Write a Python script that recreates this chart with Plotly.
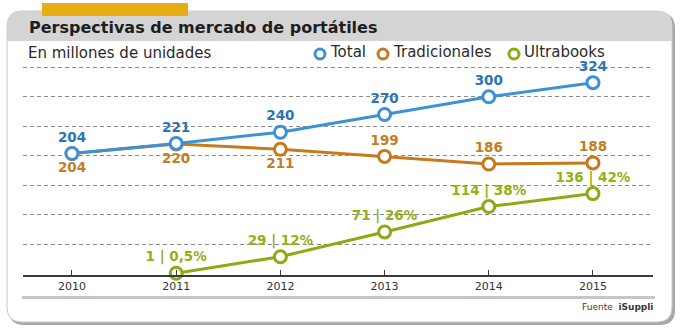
import plotly.graph_objects as go

# Series (millions of units)
YEARS = [2010, 2011, 2012, 2013, 2014, 2015]
TOTAL = [204, 221, 240, 270, 300, 324]
TRADICIONALES = [204, 220, 211, 199, 186, 188]
ULTRA_YEARS = [2011, 2012, 2013, 2014, 2015]
ULTRABOOKS = [1, 29, 71, 114, 136]
ULTRA_SHARE = ["0,5%", "12%", "26%", "38%", "42%"]
SERIES_NAMES = ["Total", "Tradicionales", "Ultrabooks"]

BLUE = "#3d92d6"
BLUE_TXT = "#2b74b5"
ORANGE = "#c8791c"
ORANGE_TXT = "#c47d22"
GREEN = "#8bab12"
GREEN_TXT = "#93b015"

W, H = 680, 330
ML, MR, MT, MB = 23, 27, 62, 55
PW, PH = W - ML - MR, H - MT - MB


def px(x):
    return (x - ML) / PW


def py(y):
    return (H - MB - y) / PH


def rounded_path(x0, y0, x1, y1, r, top=True, bottom=True):
    rt = r if top else 0
    rb = r if bottom else 0
    pts = [f"M {px(x0 + rt)},{py(y0)}", f"L {px(x1 - rt)},{py(y0)}"]
    if rt:
        pts.append(f"Q {px(x1)},{py(y0)} {px(x1)},{py(y0 + rt)}")
    pts.append(f"L {px(x1)},{py(y1 - rb)}")
    if rb:
        pts.append(f"Q {px(x1)},{py(y1)} {px(x1 - rb)},{py(y1)}")
    pts.append(f"L {px(x0 + rb)},{py(y1)}")
    if rb:
        pts.append(f"Q {px(x0)},{py(y1)} {px(x0)},{py(y1 - rb)}")
    pts.append(f"L {px(x0)},{py(y0 + rt)}")
    if rt:
        pts.append(f"Q {px(x0)},{py(y0)} {px(x0 + rt)},{py(y0)}")
    pts.append("Z")
    return " ".join(pts)


fig = go.Figure()

LABEL_FONT = "DejaVu Sans"


def series(name, xs, ys, color, txtcolor, texts, positions):
    fig.add_trace(go.Scatter(
        x=xs, y=ys, mode="lines+markers+text", name=name, showlegend=False,
        line=dict(color=color, width=3),
        marker=dict(symbol="circle", size=12, color="white",
                    line=dict(color=color, width=3)),
        text=texts, textposition=positions,
        textfont=dict(family=LABEL_FONT, size=13.5, color=txtcolor, weight="bold"),
        cliponaxis=False, hoverinfo="skip",
    ))


series(SERIES_NAMES[2], ULTRA_YEARS, ULTRABOOKS, GREEN, GREEN_TXT,
       [f"{v} | {s}" for v, s in zip(ULTRABOOKS, ULTRA_SHARE)], "top center")
series(SERIES_NAMES[1], YEARS, TRADICIONALES, ORANGE, ORANGE_TXT,
       [str(v) for v in TRADICIONALES],
       ["bottom center"] * 3 + ["top center"] * 3)
series(SERIES_NAMES[0], YEARS, TOTAL, BLUE, BLUE_TXT,
       [str(v) for v in TOTAL], "top center")

shapes = [
    # card shadow, card, header band
    dict(type="path", path=rounded_path(9, 13, 675, 325, 15),
         fillcolor="#a8a8a8", line=dict(width=0), layer="below"),
    dict(type="path", path=rounded_path(7, 11, 672, 322, 15),
         fillcolor="white", line=dict(color="#c9c9c9", width=1), layer="below"),
    dict(type="path", path=rounded_path(7, 11, 672, 41, 15, bottom=False),
         fillcolor="#d4d4d4", line=dict(width=0), layer="below"),
    dict(type="rect", x0=px(42), x1=px(188), y0=py(3), y1=py(16),
         fillcolor="#e8ad14", line=dict(width=0), layer="below"),
    dict(type="line", x0=px(22), x1=px(655), y0=py(297.5), y1=py(297.5),
         line=dict(color="#c6c6c6", width=3), layer="below"),
]

annotations = [
    dict(text="<b>Perspectivas de mercado de portátiles</b>", x=px(27), y=py(27),
         xanchor="left", yanchor="middle",
         font=dict(family="DejaVu Sans", size=16, color="#1e1e1e")),
    dict(text="En millones de unidades", x=px(27), y=py(53),
         xanchor="left", yanchor="middle", borderpad=0,
         font=dict(family="DejaVu Sans", size=15, color="#2a2a2a")),
    dict(text="Fuente  <b>iSuppli</b>", x=px(655), y=py(307),
         xanchor="right", yanchor="middle",
         font=dict(family="DejaVu Sans", size=9, color="#3a3a3a")),
]

# Legend: ring symbol + label for each series
legend_items = [(SERIES_NAMES[0], BLUE, 320), (SERIES_NAMES[1], ORANGE, 383),
                (SERIES_NAMES[2], GREEN, 514)]
for name, color, lx in legend_items:
    shapes.append(dict(type="circle", xsizemode="pixel", ysizemode="pixel",
                       xanchor=px(lx), yanchor=py(54), x0=-5, x1=5, y0=-5, y1=5,
                       fillcolor="white", line=dict(color=color, width=3)))
    annotations.append(dict(text=name, x=px(lx + 9), y=py(52.5), xanchor="left",
                            yanchor="middle", borderpad=0,
                            font=dict(family="DejaVu Sans", size=15, color="#2a2a2a")))

for s in shapes:
    s["xref"] = "paper"
    s["yref"] = "paper"
for a in annotations:
    a["xref"] = "paper"
    a["yref"] = "paper"
    a["showarrow"] = False

fig.update_layout(
    width=W, height=H,
    margin=dict(l=ML, r=MR, t=MT, b=MB, pad=0),
    paper_bgcolor="white", plot_bgcolor="rgba(0,0,0,0)",
    shapes=shapes, annotations=annotations, showlegend=False,
    hovermode=False,
    xaxis=dict(range=[2009.53, 2015.576], tickvals=YEARS, ticktext=[str(y) for y in YEARS],
               showgrid=False, zeroline=False, showline=True, linecolor="#3a3a3a",
               linewidth=1.5, ticks="inside", ticklen=5, tickcolor="#3a3a3a",
               tickfont=dict(family="DejaVu Sans", size=11, color="#333333"),
               fixedrange=True),
    yaxis=dict(range=[-2, 359], tickmode="array", tickvals=list(range(50, 351, 50)),
               showticklabels=False, showgrid=True, gridcolor="#8a8a8a", gridwidth=1,
               griddash="4px,3px", zeroline=False, showline=False, fixedrange=True),
)

fig.write_html("out.html")
